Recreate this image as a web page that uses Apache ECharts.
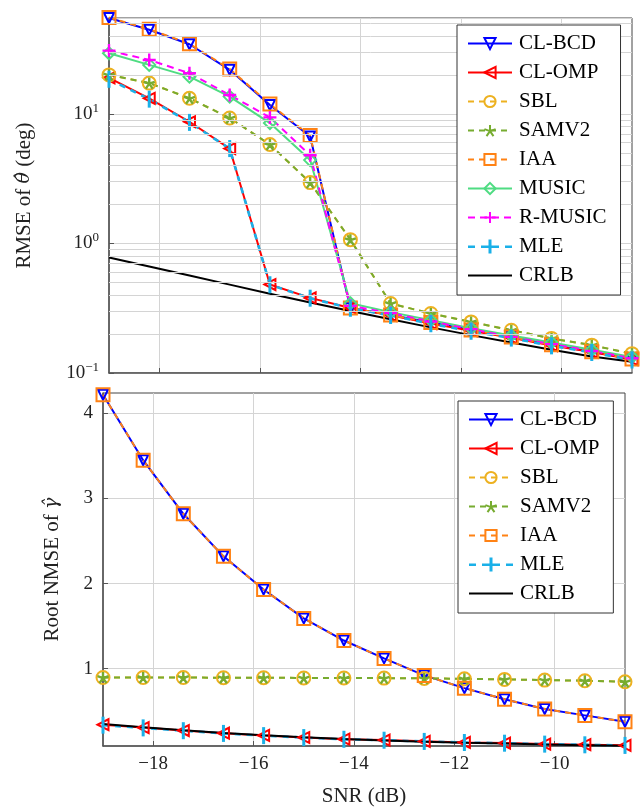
<!DOCTYPE html>
<html>
<head>
<meta charset="utf-8">
<script src="https://cdn.jsdelivr.net/npm/echarts@6/dist/echarts.min.js"></script>
<style>
  html, body { margin: 0; padding: 0; background: #fff; }
  #chart { width: 644px; height: 808px; }
</style>
</head>
<body>
<div id="chart"></div>
<script>
// SNR points (dB)
var snr = [-19, -18.2, -17.4, -16.6, -15.8, -15, -14.2, -13.4, -12.6, -11.8, -11, -10.2, -9.4, -8.6];
var xTicks = [-18, -16, -14, -12, -10];

// top panel: RMSE of theta (deg)
var clbcdTheta  = [55, 44.6, 34.5, 21.9, 11.7, 6.7, 0.318, 0.28, 0.245, 0.215, 0.19, 0.165, 0.146, 0.128];
var clompTheta  = [19.0, 13.2, 8.7, 5.4, 0.482, 0.38, 0.318, 0.279, 0.241, 0.212, 0.187, 0.163, 0.145, 0.127];
var sblTheta    = [20.0, 17.3, 13.2, 9.3, 5.8, 2.95, 1.07, 0.344, 0.288, 0.248, 0.214, 0.185, 0.164, 0.141];
var samvTheta   = [20.0, 17.3, 13.2, 9.3, 5.8, 2.95, 1.07, 0.344, 0.288, 0.248, 0.214, 0.185, 0.164, 0.141];
var iaaTheta    = [55.5, 45, 34.8, 22.2, 11.9, 6.8, 0.318, 0.28, 0.245, 0.215, 0.19, 0.165, 0.146, 0.128];
var musicTheta  = [29.4, 23.9, 19.4, 13.6, 8.5, 4.4, 0.345, 0.295, 0.255, 0.222, 0.195, 0.172, 0.151, 0.133];
var rmusicTheta = [30.8, 26.1, 20.6, 14.0, 9.4, 4.8, 0.33, 0.29, 0.25, 0.218, 0.19, 0.167, 0.148, 0.13];
var mleTheta    = [18.5, 13.0, 8.6, 5.4, 0.48, 0.378, 0.316, 0.278, 0.24, 0.21, 0.186, 0.162, 0.144, 0.126];
var crlbTheta   = [0.78, 0.664, 0.565, 0.481, 0.409, 0.35, 0.301, 0.26, 0.225, 0.196, 0.172, 0.151, 0.134, 0.122];
var thetaMinorGrid = [0.2, 0.3, 0.4, 0.5, 0.6, 0.7, 0.8, 0.9, 2, 3, 4, 5, 6, 7, 8, 9, 20, 30, 40, 50];

// bottom panel: root NMSE of gamma
var clbcdGamma = [4.22, 3.45, 2.82, 2.32, 1.93, 1.59, 1.33, 1.12, 0.92, 0.77, 0.64, 0.525, 0.45, 0.375];
var clompGamma = [0.34, 0.307, 0.272, 0.24, 0.214, 0.19, 0.17, 0.16, 0.145, 0.132, 0.124, 0.113, 0.105, 0.098];
var sblGamma   = [0.895, 0.895, 0.895, 0.893, 0.893, 0.89, 0.89, 0.888, 0.885, 0.88, 0.873, 0.865, 0.857, 0.845];
var samvGamma  = [0.895, 0.895, 0.895, 0.893, 0.893, 0.89, 0.89, 0.888, 0.885, 0.88, 0.873, 0.865, 0.857, 0.845];
var iaaGamma   = [4.22, 3.45, 2.82, 2.32, 1.93, 1.59, 1.33, 1.12, 0.92, 0.77, 0.64, 0.525, 0.45, 0.375];
var mleGamma   = [0.335, 0.303, 0.27, 0.238, 0.212, 0.189, 0.169, 0.158, 0.144, 0.131, 0.123, 0.112, 0.104, 0.097];
var crlbGamma  = [0.35, 0.31, 0.275, 0.243, 0.216, 0.193, 0.172, 0.155, 0.14, 0.128, 0.118, 0.108, 0.1, 0.093];
var gammaTicks = [1, 2, 3, 4];

var FONT = 'Liberation Serif';
var GRIDC = '#d4d4d4';
var AXC = '#555';

// marker / line styles per method
var styles = {
    'CL-BCD':  {color: '#0000ff', dash: 'solid', symbol: 'triangle', rot: 180, size: 10, hollow: true},
    'CL-OMP':  {color: '#ff0000', dash: 'solid', symbol: 'triangle', rot: 90, size: 11, hollow: true},
    'SBL':     {color: '#edb120', dash: [6, 5], symbol: 'circle', rot: 0, size: 13, hollow: true},
    'SAMV2':   {color: '#77ac30', dash: [6, 5], symbol: 'path://M0,-10L0,0M9.5,-3.1L0,0M5.9,8.1L0,0M-5.9,8.1L0,0M-9.5,-3.1L0,0', rot: 0, size: 11, hollow: false},
    'IAA':     {color: '#ff8214', dash: [6, 5], symbol: 'rect', rot: 0, size: 13, hollow: true},
    'MUSIC':   {color: '#4fdc82', dash: 'solid', symbol: 'diamond', rot: 0, size: 12, hollow: true},
    'R-MUSIC': {color: '#ff00ff', dash: [7, 5], symbol: 'path://M-5,0L5,0M0,-5L0,5', rot: 0, size: 13, hollow: false},
    'MLE':     {color: '#1ab0e8', dash: [6, 6], symbol: 'rect', rot: 0, size: [3, 17], hollow: false},
    'CRLB':    {color: '#000000', dash: 'solid', symbol: 'none', rot: 0, size: 0, hollow: false}
};

// legend icon for MLE: dashed line with a tall bar in the middle
var mleIcon = 'path://M0,6L7,6L7,8.5L0,8.5Z M13,6L20.5,6L20.5,8.5L13,8.5Z M20.5,0L23.5,0L23.5,14L20.5,14Z M23.5,6L31,6L31,8.5L23.5,8.5Z M37,6L44,6L44,8.5L37,8.5Z';

function mk(name, vals, idx) {
    var s = styles[name];
    var isStroke = name === 'SAMV2' || name === 'R-MUSIC';
    return {
        name: name,
        type: 'line',
        xAxisIndex: idx,
        yAxisIndex: idx,
        z: 3,
        data: snr.map(function (x, i) { return [x, vals[i]]; }),
        symbol: s.symbol,
        symbolSize: s.size,
        symbolRotate: s.rot,
        showSymbol: s.symbol !== 'none',
        clip: false,
        animation: false,
        lineStyle: {color: s.color, width: name === 'MLE' ? 2.6 : 2, type: s.dash},
        itemStyle: {
            color: s.hollow ? 'rgba(255,255,255,0)' : s.color,
            borderColor: s.color,
            borderWidth: isStroke ? 2.4 : (s.hollow ? 2 : 0)
        },
        emphasis: {disabled: true}
    };
}

function logLabel(v) {
    var e = Math.log10(v);
    var r = Math.round(e);
    if (Math.abs(e - r) > 1e-6) return '';
    return '{b|10}{s|' + String(r).replace('-', '\u2212') + '}';
}

function legendItems(names) {
    return names.map(function (n) {
        if (n === 'CRLB') return {name: n, itemStyle: {color: 'rgba(0,0,0,0)', borderWidth: 0}};
        if (n === 'MLE') return {name: n, icon: mleIcon};
        return {name: n};
    });
}

var topNames = ['CL-BCD', 'CL-OMP', 'SBL', 'SAMV2', 'IAA', 'MUSIC', 'R-MUSIC', 'MLE', 'CRLB'];
var botNames = ['CL-BCD', 'CL-OMP', 'SBL', 'SAMV2', 'IAA', 'MLE', 'CRLB'];

var legendBase = {
    orient: 'vertical',
    z: 50,
    backgroundColor: '#fff',
    borderColor: '#333',
    borderWidth: 1,
    borderRadius: 0,
    itemWidth: 44,
    itemHeight: 14,
    itemGap: 8,
    symbolKeepAspect: true,
    selectedMode: false,
    textStyle: {fontFamily: FONT, fontSize: 21, color: '#000', lineHeight: 21, padding: [0, 0, 0, 2]}
};

var xBase = {
    type: 'value',
    min: -19,
    max: -8.6,
    axisLine: {show: true, lineStyle: {color: AXC, width: 1.5}},
    axisTick: {show: true, inside: true, length: 5, customValues: xTicks, lineStyle: {color: AXC}},
    splitLine: {show: true, lineStyle: {color: GRIDC, width: 1}}
};

var titleRich = {i: {fontFamily: 'DejaVu Serif', fontSize: 19, fontStyle: 'italic', color: '#222'}};

var chart = echarts.init(document.getElementById('chart'));
var option = {
    backgroundColor: '#fff',
    animation: false,
    grid: [
        {left: 109, right: 12, top: 18, height: 355, show: true, borderColor: '#444', borderWidth: 1},
        {left: 103, right: 19, top: 393, height: 355, show: true, borderColor: '#444', borderWidth: 1}
    ],
    legend: [
        Object.assign({}, legendBase, {data: legendItems(topNames), left: 457, top: 25, padding: [8, 14, 9, 10]}),
        Object.assign({}, legendBase, {data: legendItems(botNames), left: 458, top: 401, padding: [8, 14, 9, 10]})
    ],
    xAxis: [
        Object.assign({}, xBase, {gridIndex: 0, axisLabel: {show: false}}),
        Object.assign({}, xBase, {
            gridIndex: 1,
            name: 'SNR (dB)',
            nameLocation: 'middle',
            nameGap: 40,
            nameTextStyle: {fontFamily: FONT, fontSize: 21, color: '#222'},
            axisLabel: {
                customValues: xTicks,
                margin: 9,
                fontFamily: FONT, fontSize: 19, color: '#222',
                formatter: function (v) { return String(v).replace('-', '\u2212'); }
            }
        })
    ],
    yAxis: [
        {
            gridIndex: 0,
            type: 'log',
            logBase: 10,
            min: 0.1,
            max: 55,
            name: 'RMSE of {i|\u03b8\u0302} (deg)',
            nameLocation: 'middle',
            nameGap: 74,
            nameTextStyle: {fontFamily: FONT, fontSize: 21, color: '#222', rich: titleRich},
            axisLine: {show: true, lineStyle: {color: AXC, width: 1.5}},
            axisTick: {show: true, inside: true, length: 5, lineStyle: {color: AXC}},
            splitLine: {show: true, lineStyle: {color: GRIDC, width: 1}},
            axisLabel: {
                margin: 10,
                formatter: logLabel,
                rich: {
                    b: {fontFamily: FONT, fontSize: 19, color: '#222', lineHeight: 24},
                    s: {fontFamily: FONT, fontSize: 13, color: '#222', verticalAlign: 'top', lineHeight: 24}
                }
            }
        },
        {
            gridIndex: 1,
            type: 'value',
            min: 0.09,
            max: 4.24,
            name: 'Root NMSE of {i|\u03b3\u0302}',
            nameLocation: 'middle',
            nameGap: 40,
            nameTextStyle: {fontFamily: FONT, fontSize: 21, color: '#222', rich: titleRich},
            axisLine: {show: true, lineStyle: {color: AXC, width: 1.5}},
            axisTick: {show: true, inside: true, length: 5, customValues: gammaTicks, lineStyle: {color: AXC}},
            splitLine: {show: true, lineStyle: {color: GRIDC, width: 1}},
            axisLabel: {customValues: gammaTicks, margin: 10, fontFamily: FONT, fontSize: 19, color: '#222'}
        }
    ],
    series: [
        {
            name: 'minor-grid',
            type: 'line',
            xAxisIndex: 0,
            yAxisIndex: 0,
            z: 1,
            data: [],
            silent: true,
            animation: false,
            markLine: {
                silent: true,
                animation: false,
                symbol: ['none', 'none'],
                label: {show: false},
                lineStyle: {color: GRIDC, width: 1, type: 'solid'},
                emphasis: {disabled: true},
                data: thetaMinorGrid.map(function (v) { return {yAxis: v}; })
            }
        },
        mk('CL-BCD', clbcdTheta, 0),
        mk('CL-OMP', clompTheta, 0),
        mk('SBL', sblTheta, 0),
        mk('SAMV2', samvTheta, 0),
        mk('IAA', iaaTheta, 0),
        mk('MUSIC', musicTheta, 0),
        mk('R-MUSIC', rmusicTheta, 0),
        mk('MLE', mleTheta, 0),
        mk('CRLB', crlbTheta, 0),
        mk('CL-BCD', clbcdGamma, 1),
        mk('CL-OMP', clompGamma, 1),
        mk('SBL', sblGamma, 1),
        mk('SAMV2', samvGamma, 1),
        mk('IAA', iaaGamma, 1),
        mk('MLE', mleGamma, 1),
        mk('CRLB', crlbGamma, 1)
    ]
};
chart.setOption(option);
</script>
</body>
</html>
